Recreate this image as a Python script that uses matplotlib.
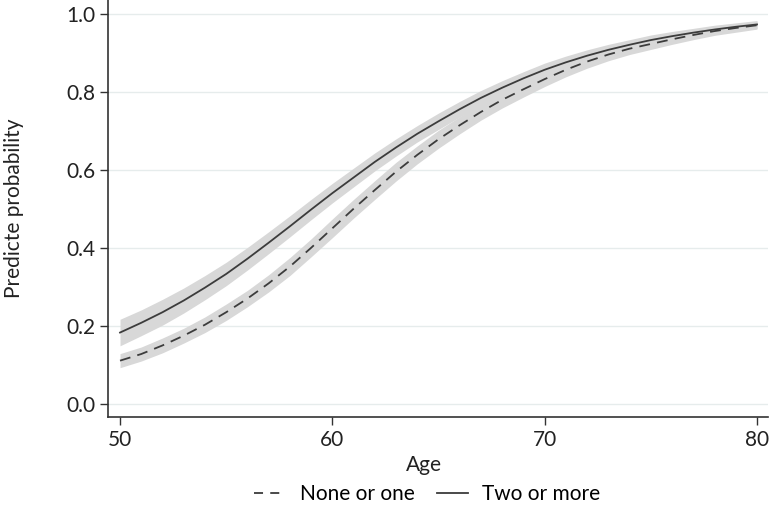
import matplotlib
matplotlib.use("Agg")
import matplotlib.pyplot as plt
from matplotlib.lines import Line2D

# values, one per year of age
ages = list(range(50, 81))

none_or_one = [0.111, 0.128, 0.150, 0.175, 0.203, 0.235, 0.270, 0.309, 0.352, 0.400,
               0.450, 0.500, 0.548, 0.595, 0.638, 0.678, 0.714, 0.748, 0.779, 0.806,
               0.832, 0.856, 0.877, 0.895, 0.910, 0.922, 0.934, 0.945, 0.955, 0.963,
               0.970]
none_halfwidth = [0.018, 0.018, 0.019, 0.019, 0.020, 0.021, 0.021, 0.022, 0.023, 0.023,
                  0.024, 0.024, 0.024, 0.024, 0.023, 0.023, 0.022, 0.021, 0.021, 0.020,
                  0.019, 0.018, 0.017, 0.016, 0.015, 0.014, 0.013, 0.012, 0.011, 0.011,
                  0.010]

two_or_more = [0.183, 0.208, 0.235, 0.265, 0.298, 0.333, 0.372, 0.413, 0.455, 0.498,
               0.540, 0.580, 0.620, 0.657, 0.692, 0.724, 0.755, 0.784, 0.810, 0.834,
               0.856, 0.875, 0.892, 0.907, 0.920, 0.932, 0.942, 0.951, 0.959, 0.966,
               0.972]
two_halfwidth = [0.034, 0.033, 0.033, 0.032, 0.031, 0.030, 0.029, 0.028, 0.027, 0.026,
                 0.025, 0.024, 0.023, 0.022, 0.021, 0.021, 0.020, 0.019, 0.018, 0.017,
                 0.017, 0.016, 0.015, 0.014, 0.013, 0.013, 0.012, 0.011, 0.011, 0.010,
                 0.010]

y_ticks = [0.0, 0.2, 0.4, 0.6, 0.8, 1.0]
x_ticks = [50, 60, 70, 80]

plt.rcParams["font.family"] = ["Lato", "DejaVu Sans"]

LINE = "#3c3c3c"
BAND = "#d8d8d8"
FS = 15

fig = plt.figure(figsize=(7.7, 5.07), dpi=100)
ax = fig.add_axes([0.1403, 0.1775, 0.8571, 0.8225])

for mean, hw in ((none_or_one, none_halfwidth), (two_or_more, two_halfwidth)):
    lo = [m - h for m, h in zip(mean, hw)]
    hi = [m + h for m, h in zip(mean, hw)]
    ax.fill_between(ages, lo, hi, color=BAND, linewidth=0, zorder=2)

ax.plot(ages, none_or_one, color=LINE, linewidth=1.3, dashes=(6, 4), zorder=3)
ax.plot(ages, two_or_more, color=LINE, linewidth=1.3, zorder=3)

ax.set_xlim(49.435, 80.518)
ax.set_ylim(-0.0333, 1.0346)
ax.set_xticks(x_ticks)
ax.set_yticks(y_ticks)
ax.set_yticklabels([f"{v:.1f}" for v in y_ticks])
ax.grid(axis="y", color="#e6ecec", linewidth=1.0, zorder=0)
ax.set_axisbelow(True)

for side in ("top", "right"):
    ax.spines[side].set_visible(False)
for side in ("left", "bottom"):
    ax.spines[side].set_color("#333333")
    ax.spines[side].set_linewidth(1.2)

ax.tick_params(axis="both", direction="out", length=6, width=1.0, color="#333333",
               labelsize=FS, labelcolor="#222222", pad=3)

ax.set_xlabel("Age", fontsize=FS, color="#222222")
ax.xaxis.set_label_coords(0.479, -0.092)
ax.set_ylabel("Predicte probability", fontsize=FS, color="#222222")
ax.yaxis.set_label_coords(-0.127, 0.5)

handles = [
    Line2D([], [], color=LINE, linewidth=1.3, dashes=(5, 4)),
    Line2D([], [], color=LINE, linewidth=1.3),
]
fig.legend(handles, ["None or one", "Two or more"], loc="center",
           bbox_to_anchor=(0.555, 0.026), ncol=2, frameon=False, fontsize=FS,
           handlelength=1.5, columnspacing=1.05, handletextpad=0.7)

fig.savefig("out.png", dpi=100)
